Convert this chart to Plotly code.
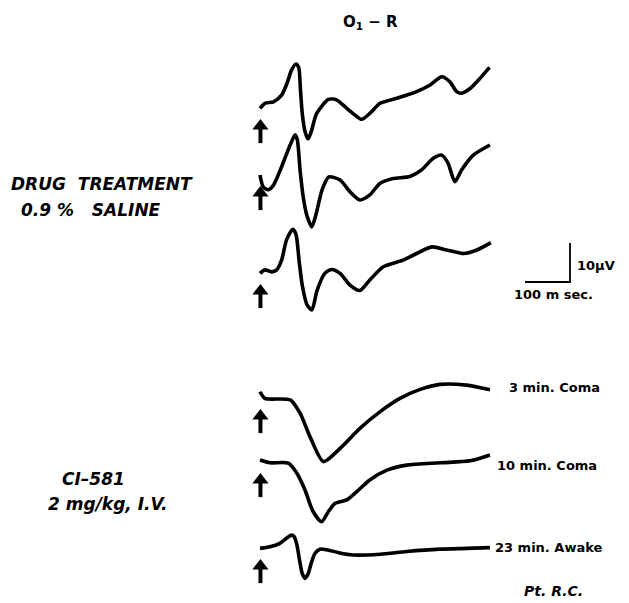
import plotly.graph_objects as go

# Visual evoked responses, derivation O1-R. Time in ms from stimulus, amplitude in microvolts.
t_sal1 = [0, 11, 30, 48, 60, 70, 80, 86, 90, 94, 100, 107, 114, 126, 152, 170, 193, 211, 226, 244, 267, 304, 348, 378, 404, 422, 437, 448, 467, 489, 510]
v_sal1 = [-0.1, 1.2, 1.6, 3.3, 6.3, 9.7, 11.3, 10.4, 4.5, -1.5, -6.0, -7.9, -6.0, -1.4, 2.2, 2.1, -0.1, -1.8, -2.9, -1.4, 1.2, 2.5, 4.2, 5.9, 8.0, 6.7, 4.2, 3.8, 5.0, 7.6, 10.4]

t_sal2 = [0, 7, 18, 30, 48, 67, 78, 83, 89, 96, 104, 115, 124, 138, 153, 178, 200, 222, 244, 267, 296, 333, 359, 385, 404, 418, 433, 448, 474, 511]
v_sal2 = [0, -3.0, -3.8, -2.6, 2.1, 7.7, 10.3, 9.0, 1.3, -5.6, -10.3, -13.3, -10.3, -3.8, -0.5, -1.3, -4.3, -6.4, -5.1, -2.1, -0.9, -0.4, 1.3, 4.3, 5.1, 3.0, -1.7, 1.3, 5.1, 7.7]

t_sal3 = [0, 11, 26, 37, 48, 59, 73, 80, 87, 94, 104, 115, 127, 144, 159, 178, 200, 222, 244, 274, 318, 348, 382, 415, 452, 482, 513]
v_sal3 = [-0.1, 0.8, 0.3, 0.8, 3.3, 8.5, 11.2, 9.9, 3.0, -3.2, -8.0, -9.5, -4.4, -0.1, 0.9, -0.1, -3.1, -4.5, -1.8, 1.6, 3.3, 5.0, 6.7, 5.9, 5.0, 5.9, 7.8]

t_coma3 = [0, 11, 67, 89, 111, 141, 178, 222, 267, 311, 356, 400, 459, 511]
v_coma3 = [1.6, -0.1, -0.5, -3.9, -9.9, -16.3, -12.9, -7.8, -3.5, -0.1, 2.2, 3.5, 3.3, 2.1]

t_coma10 = [0, 22, 63, 82, 100, 118, 137, 152, 167, 193, 215, 244, 282, 326, 400, 467, 511]
v_coma10 = [0.5, -0.2, -0.3, -2.9, -7.2, -12.7, -15.3, -12.7, -10.6, -9.7, -7.6, -4.6, -2.1, -0.8, -0.2, 0.3, 1.8]

t_awake23 = [0, 22, 44, 60, 70, 76, 82, 88, 94, 100, 107, 114, 122, 133, 150, 175, 207, 267, 326, 400, 459, 511]
v_awake23 = [-0.1, 0.3, 1.2, 2.6, 3.3, 2.9, 0.8, -3.2, -6.6, -7.8, -6.6, -3.8, -1.4, -0.3, -0.5, -1.2, -1.8, -1.6, -0.9, -0.3, -0.1, 0.1]

trace_labels = ["", "", "", "3 min. Coma", "10 min. Coma", "23 min. Awake"]
scale_time_ms = 100
scale_amp_uv = 10

# Layout geometry
W, H = 629, 603
PX_PER_MS = 0.45
PX_PER_UV = 3.9
X0_PX = 260                     # pixel column of stimulus onset
row_base_px = [108, 175, 273, 398, 462, 548]

series = [(t_sal1, v_sal1), (t_sal2, v_sal2), (t_sal3, v_sal3),
          (t_coma3, v_coma3), (t_coma10, v_coma10), (t_awake23, v_awake23)]

def row_offset(i):
    return -row_base_px[i] / PX_PER_UV

fig = go.Figure()
ink = "#000000"

for i, (t, v) in enumerate(series):
    off = row_offset(i)
    fig.add_trace(go.Scatter(
        x=t, y=[a + off for a in v], mode="lines",
        line=dict(color=ink, width=3.6, shape="spline", smoothing=0.7),
        hoverinfo="skip", showlegend=False))
    # stimulus marker under each sweep: shaft plus triangular head
    fig.add_trace(go.Scatter(
        x=[1, 1], y=[off - 9.0, off - 5.2], mode="lines",
        line=dict(color=ink, width=4), hoverinfo="skip", showlegend=False))
    fig.add_trace(go.Scatter(
        x=[1], y=[off - 4.6], mode="markers",
        marker=dict(symbol="triangle-up", size=14, color=ink, line=dict(width=0)),
        hoverinfo="skip", showlegend=False))

# calibration bar
bar_t0 = (525 - X0_PX) / PX_PER_MS
bar_y0 = -282 / PX_PER_UV
fig.add_trace(go.Scatter(
    x=[bar_t0, bar_t0 + scale_time_ms, bar_t0 + scale_time_ms],
    y=[bar_y0, bar_y0, bar_y0 + scale_amp_uv],
    mode="lines", line=dict(color=ink, width=1.8),
    hoverinfo="skip", showlegend=False))

def px_text(x, y, text, size=14, italic=False, anchor="left"):
    fam = "DejaVu Sans"
    fig.add_annotation(x=x / W, y=1 - y / H, xref="paper", yref="paper",
                       text=f"<b><i>{text}</i></b>" if italic else f"<b>{text}</b>",
                       showarrow=False, xanchor=anchor, yanchor="middle",
                       font=dict(family=fam, size=size, color=ink))

px_text(370, 22, "O<sub>1</sub> − R", size=15, anchor="center")
px_text(9, 184, "DRUG  TREATMENT", size=17, italic=True)
px_text(19, 210, "0.9 %   SALINE", size=17, italic=True)
px_text(60, 479, "CI–581", size=17, italic=True)
px_text(46, 504, "2 mg/kg, I.V.", size=17, italic=True)
px_text(575, 265, "10µV", size=13)
px_text(512, 294, "100 m sec.", size=13)
label_y_px = [None, None, None, 387, 465, 547]
label_x_px = [None, None, None, 507, 495, 493]
for i, lab in enumerate(trace_labels):
    if lab:
        px_text(label_x_px[i], label_y_px[i], lab, size=13)
px_text(522, 591, "Pt. R.C.", size=14, italic=True)

fig.update_layout(
    width=W, height=H, margin=dict(l=0, r=0, t=0, b=0),
    paper_bgcolor="white", plot_bgcolor="white",
    xaxis=dict(range=[-X0_PX / PX_PER_MS, (W - X0_PX) / PX_PER_MS], visible=False, fixedrange=True),
    yaxis=dict(range=[-H / PX_PER_UV, 0], visible=False, fixedrange=True),
)

fig.write_html("out.html")
